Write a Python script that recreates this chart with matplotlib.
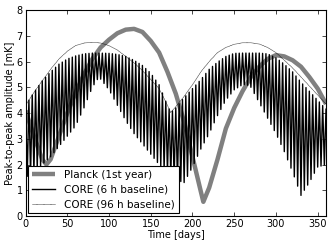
import numpy as np
import matplotlib
matplotlib.use("Agg")
import matplotlib.pyplot as plt

# Planck (1st year) peak-to-peak amplitude
planck_days = [0, 10, 20, 25, 30, 40, 50, 60, 70, 80, 90, 100, 110, 120, 130,
               140, 150, 160, 170, 180, 190, 200, 210, 213, 220, 230, 240, 250,
               260, 270, 280, 290, 300, 310, 320, 330, 340, 350, 360]
planck_amp = [4.1, 3.1, 2.2, 2.0, 2.2, 3.1, 4.0, 4.8, 5.5, 6.1, 6.55, 6.85,
              7.1, 7.24, 7.27, 7.15, 6.8, 6.35, 5.6, 4.75, 3.65, 2.3, 0.95,
              0.55, 1.1, 2.2, 3.4, 4.2, 4.85, 5.4, 5.8, 6.1, 6.25, 6.2, 6.05,
              5.8, 5.4, 4.95, 4.35]

# CORE 96 h baseline
core96_days = [0, 10, 20, 30, 40, 50, 60, 70, 80, 90, 100, 110, 120, 130, 140,
               150, 160, 170, 174, 180, 190, 200, 210, 220, 230, 240, 250, 260,
               270, 280, 290, 300, 310, 320, 330, 340, 350, 360]
core96_amp = [4.3, 4.8, 5.25, 5.7, 6.1, 6.4, 6.62, 6.72, 6.75, 6.72, 6.62,
              6.45, 6.2, 5.95, 5.65, 5.3, 4.95, 4.3, 4.02, 4.25, 4.65, 5.1,
              5.6, 6.0, 6.35, 6.55, 6.67, 6.73, 6.73, 6.68, 6.55, 6.35, 6.05,
              5.75, 5.4, 5.05, 4.7, 4.35]

# CORE 6 h baseline: top and bottom of the fast oscillation
core6_days = [0, 10, 20, 30, 40, 50, 60, 70, 80, 88, 100, 110, 120, 130, 140,
              150, 160, 170, 174, 180, 190, 200, 210, 220, 230, 240, 250, 260,
              265, 270, 280, 290, 300, 310, 320, 330, 340, 350, 360]
core6_top = [4.3, 4.8, 5.25, 5.6, 5.9, 6.1, 6.22, 6.3, 6.33, 6.33, 6.32,
             6.28, 6.2, 6.05, 5.85, 5.55, 5.1, 4.3, 4.02, 4.2, 4.6, 4.95, 5.3,
             5.7, 5.98, 6.2, 6.32, 6.33, 6.33, 6.33, 6.33, 6.3, 6.15, 5.9,
             5.6, 5.2, 4.85, 4.5, 4.15]
core6_bottom = [1.5, 1.7, 2.0, 2.3, 2.7, 3.1, 3.5, 4.2, 5.0, 5.4, 4.9, 4.3,
                3.7, 3.2, 2.8, 2.4, 2.0, 1.7, 1.6, 1.4, 1.3, 1.9, 2.6, 3.2,
                3.9, 4.5, 4.9, 5.1, 5.1, 5.0, 4.4, 3.8, 3.2, 2.5, 1.7, 0.8,
                1.3, 1.9, 2.0]
spin_period = 4.0  # days between dips

# zig-zag between the top and bottom curves
t_top = np.arange(0, 360 + spin_period, spin_period)
t_bot = t_top + spin_period / 2
t6 = np.sort(np.concatenate([t_top, t_bot]))
t6 = t6[t6 <= 360]
is_top = np.isin(t6, t_top)
v6 = np.where(is_top,
              np.interp(t6, core6_days, core6_top),
              np.interp(t6, core6_days, core6_bottom))

fig = plt.figure(figsize=(3.32, 2.46), dpi=100)
ax = fig.add_axes([0.077, 0.122, 0.905, 0.837])

ax.plot(planck_days, planck_amp, color='0.5', lw=3.2, zorder=1,
        solid_capstyle='butt', label='Planck (1st year)')
ax.plot(t6, v6, color='k', lw=1.0, zorder=2, label='CORE (6 h baseline)')
ax.plot(core96_days, core96_amp, color='k', lw=0.4, ls='--', zorder=3,
        dashes=(1.5, 0.6), label='CORE (96 h baseline)')

ax.set_xlim(0, 360)
ax.set_ylim(0, 8)
ax.set_xticks(range(0, 351, 50))
ax.set_yticks(range(0, 9))
ax.tick_params(direction='in', top=True, right=True, labelsize=7,
               length=3, width=0.5, pad=2)
for s in ax.spines.values():
    s.set_linewidth(0.8)

ax.set_xlabel('Time [days]', fontsize=7, labelpad=1)
ax.set_ylabel('Peak-to-peak amplitude [mK]', fontsize=7, labelpad=1)

leg = ax.legend(loc='lower left', fontsize=7.5, fancybox=False,
                framealpha=1, edgecolor='k', borderaxespad=0.25,
                handlelength=2.2, labelspacing=0.45, borderpad=0.4)
leg.get_frame().set_linewidth(0.8)

plt.savefig('out.png', dpi=100)
